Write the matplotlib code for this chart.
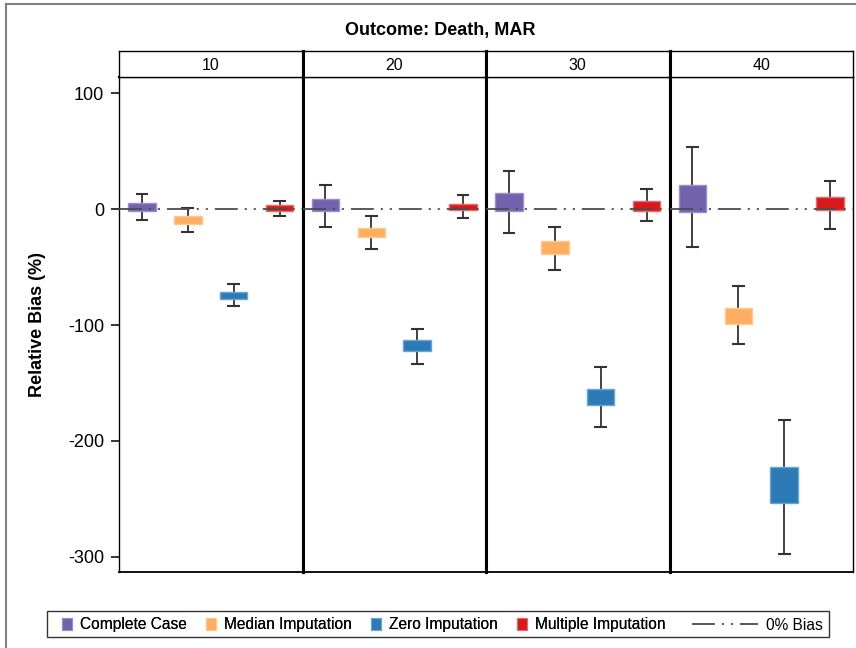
import matplotlib
matplotlib.use("Agg")
import matplotlib.pyplot as plt
from matplotlib.patches import Patch, Rectangle
from matplotlib.lines import Line2D
from matplotlib import font_manager
import numpy as np

# ---------------------------
# Data (relative bias, %)
# ---------------------------
panels = ["10", "20", "30", "40"]
methods = ["Complete Case", "Median Imputation", "Zero Imputation", "Multiple Imputation"]
colors = ["#7262AC", "#FDAE61", "#2C7BB6", "#D7191C"]
edges = ["#9A8FCC", "#FFC98F", "#6AA5D4", "#E86A6C"]

# one row per panel, one column per method
box_hi = [[5.2, -6.0, -71.4, 3.5],
          [8.9, -15.9, -113.1, 4.8],
          [13.8, -27.6, -155.2, 7.4],
          [21.2, -85.5, -222.3, 10.4]]
box_lo = [[-1.5, -12.4, -77.5, -1.5],
          [-1.5, -23.9, -122.4, -0.9],
          [-1.5, -38.3, -169.0, -1.5],
          [-2.1, -99.1, -253.4, -0.6]]
whisk_hi = [[13.5, 0.9, -64.2, 7.4],
            [21.2, -5.5, -103.4, 12.1],
            [33.3, -15.3, -136.2, 17.5],
            [54.1, -66.2, -182.2, 24.7]]
whisk_lo = [[-9.0, -19.6, -83.8, -5.5],
            [-15.0, -34.3, -133.3, -7.5],
            [-20.7, -52.2, -188.3, -10.4],
            [-32.3, -116.3, -297.4, -16.8]]
yticks = [100, 0, -100, -200, -300]

# ---------------------------
# Fonts
# ---------------------------
plt.rcParams['font.family'] = ['Liberation Sans', 'DejaVu Sans']
plt.rcParams['lines.scale_dashes'] = False
plt.rcParams['axes.unicode_minus'] = False
names = {f.name for f in font_manager.fontManager.ttflist}
if 'Liberation Sans Narrow' in names:
    leg_family = ['Liberation Sans Narrow', 'Liberation Sans']
    leg_size = 13
else:
    leg_family = ['Liberation Sans']
    leg_size = 11.2

W, H = 856, 648
fig = plt.figure(figsize=(W / 100, H / 100), dpi=100)

def fx(px):
    return px / W

def fy(py):
    return 1 - py / H

zero_ls = (0, (16.5, 5, 1.5, 5, 1.5, 5))

left, right, top, bottom, strip_top = 119, 853, 77, 572, 51
pw = (right - left) / 4
x = np.arange(1, 5)

for i, lab in enumerate(panels):
    ax = fig.add_axes([fx(left + i * pw), fy(bottom), fx(pw), (bottom - top) / H])
    lo = np.array(box_lo[i])
    hi = np.array(box_hi[i])
    ax.vlines(x, whisk_lo[i], whisk_hi[i], color='#333333', lw=1.3, zorder=2)
    ax.hlines(whisk_lo[i], x - 0.14, x + 0.14, color='#333333', lw=1.5, zorder=2)
    ax.hlines(whisk_hi[i], x - 0.14, x + 0.14, color='#333333', lw=1.5, zorder=2)
    ax.bar(x, hi - lo, bottom=lo, width=0.6, color=colors, edgecolor=edges,
           lw=1, zorder=3)
    ax.axhline(0, color='#4d4d4d', lw=1.3, ls=zero_ls, zorder=4)
    ax.set_xlim(0.5, 4.5)
    ax.set_ylim(-313.3, 114.2)
    ax.set_xticks([])
    for s in ax.spines.values():
        s.set_color('black')
    ax.spines['bottom'].set_linewidth(1.3)
    ax.spines['top'].set_linewidth(1.6)
    ax.spines['left'].set_linewidth(1.0 if i == 0 else 2.2)
    ax.spines['right'].set_linewidth(1.0 if i == 3 else 2.2)
    if i == 0:
        ax.set_yticks(yticks)
        ax.tick_params(axis='y', direction='out', length=5.8, width=1.1,
                       pad=5, labelsize=13)
    else:
        ax.set_yticks([])

    # strip header
    sx = fig.add_axes([fx(left + i * pw), fy(top), fx(pw), (top - strip_top) / H])
    sx.set_xticks([])
    sx.set_yticks([])
    for s in sx.spines.values():
        s.set_color('black')
        s.set_linewidth(1.0)
    sx.spines['left'].set_linewidth(1.0 if i == 0 else 2.2)
    sx.spines['right'].set_linewidth(1.0 if i == 3 else 2.2)
    sx.text(0.5, 0.45, lab, ha='center', va='center', fontsize=11.5,
            transform=sx.transAxes)

fig.text(fx(440), fy(31), "Outcome: Death, MAR", ha='center', va='center',
         fontsize=13, fontweight='bold')
fig.text(fx(37), fy((top + bottom) / 2), "Relative Bias (%)", rotation=90,
         ha='center', va='center', fontsize=13, fontweight='bold')

# ---------------------------
# Legend
# ---------------------------
fs_px = leg_size * 100 / 72
handles = [Patch(facecolor=c, edgecolor=e, lw=0.8) for c, e in zip(colors, edges)]
leg1 = fig.legend(handles, methods, loc='center left', ncol=4, frameon=False,
                  bbox_to_anchor=(fx(62), fy(625)), borderaxespad=0, borderpad=0,
                  handlelength=10 / fs_px, handleheight=12 / fs_px,
                  handletextpad=8 / fs_px, columnspacing=19 / fs_px,
                  prop={'family': leg_family, 'size': leg_size})
line_h = Line2D([], [], color='#4d4d4d', lw=1.3, ls=zero_ls)
leg2 = fig.legend([line_h], ["0% Bias"], loc='center right', frameon=False,
                  bbox_to_anchor=(fx(823), fy(625)), borderaxespad=0, borderpad=0,
                  handlelength=66 / fs_px, handletextpad=8 / fs_px,
                  prop={'family': leg_family, 'size': leg_size})
fig.add_artist(leg1)
fig.patches.append(Rectangle((fx(47), fy(637)), fx(829 - 47), 26 / H,
                             transform=fig.transFigure, fill=False,
                             ec='#333333', lw=1.0))

# outer page border
fig.add_artist(Line2D([fx(6), fx(6)], [0, fy(4)], color='#808080', lw=1.5,
                      transform=fig.transFigure))
fig.add_artist(Line2D([fx(6), 1], [fy(4), fy(4)], color='#808080', lw=1.5,
                      transform=fig.transFigure))

fig.savefig("out.png", dpi=100)
